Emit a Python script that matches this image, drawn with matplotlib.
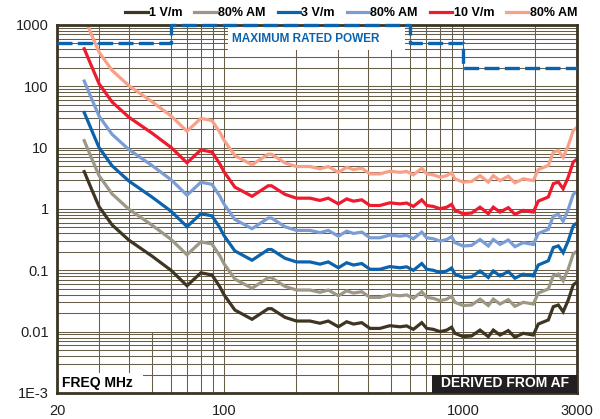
import matplotlib
matplotlib.use('Agg')
import matplotlib.pyplot as plt
from matplotlib.patches import Rectangle
from matplotlib.ticker import FixedLocator, NullFormatter

plt.rcParams['font.family'] = ['Liberation Sans', 'DejaVu Sans']

# frequency points (MHz), shared by all six curves
freq = [26, 28, 30, 34, 40, 50, 60, 70, 80, 89, 96, 100, 111, 131, 153, 158, 180, 201,
        229, 252, 273, 301, 326, 348, 377, 408, 449, 494, 545, 581, 620, 672, 705, 751,
        802, 855, 896, 925, 1002, 1086, 1178, 1276, 1339, 1429, 1547, 1649, 1787, 1969,
        2065, 2275, 2387, 2506, 2625, 2757, 2892, 2960]

# required power (W)
p_1v = [4.06, 2.04, 1.09, 0.55, 0.31, 0.17, 0.10, 0.056, 0.091, 0.084, 0.054, 0.040,
        0.0225, 0.0159, 0.0237, 0.0237, 0.0171, 0.0149, 0.0149, 0.0137, 0.0149, 0.0120,
        0.0145, 0.0133, 0.0140, 0.0113, 0.0113, 0.0125, 0.0120, 0.0124, 0.0109, 0.0140,
        0.0113, 0.0109, 0.0100, 0.0106, 0.0118, 0.0094, 0.0083, 0.0085, 0.0106, 0.0083,
        0.0106, 0.0088, 0.0104, 0.0081, 0.0094, 0.0088, 0.0133, 0.0155, 0.0255, 0.0272,
        0.0211, 0.0328, 0.0577, 0.062]
p_1v_am = [13.0, 6.53, 3.49, 1.76, 0.99, 0.544, 0.32, 0.179, 0.291, 0.269, 0.173, 0.128,
           0.072, 0.0509, 0.0758, 0.0758, 0.0547, 0.0477, 0.0477, 0.0438, 0.0477, 0.0384,
           0.0464, 0.0426, 0.0448, 0.0362, 0.0362, 0.040, 0.0384, 0.0397, 0.0349, 0.0448,
           0.0362, 0.0349, 0.032, 0.0339, 0.0378, 0.0301, 0.0266, 0.0272, 0.0339, 0.0266,
           0.0339, 0.0282, 0.0333, 0.0259, 0.0301, 0.0282, 0.0426, 0.0496, 0.0816, 0.087,
           0.0675, 0.105, 0.185, 0.198]
p_3v = [37.4, 18.8, 10.0, 5.06, 2.85, 1.56, 0.92, 0.515, 0.837, 0.773, 0.497, 0.368,
        0.207, 0.146, 0.218, 0.218, 0.157, 0.137, 0.137, 0.126, 0.137, 0.110, 0.133,
        0.122, 0.129, 0.104, 0.104, 0.115, 0.110, 0.114, 0.100, 0.129, 0.104, 0.100,
        0.092, 0.0975, 0.109, 0.0865, 0.0764, 0.0782, 0.0975, 0.0764, 0.0975, 0.081,
        0.0957, 0.0745, 0.0865, 0.081, 0.122, 0.143, 0.235, 0.250, 0.194, 0.302, 0.531,
        0.570]
p_3v_am = [121.8, 61.2, 32.7, 16.5, 9.3, 5.1, 3.0, 1.68, 2.73, 2.52, 1.62, 1.20, 0.675,
           0.477, 0.711, 0.711, 0.513, 0.447, 0.447, 0.411, 0.447, 0.360, 0.435, 0.399,
           0.420, 0.339, 0.339, 0.375, 0.360, 0.372, 0.327, 0.420, 0.339, 0.327, 0.300,
           0.318, 0.354, 0.282, 0.249, 0.255, 0.318, 0.249, 0.318, 0.264, 0.312, 0.243,
           0.282, 0.264, 0.399, 0.465, 0.765, 0.816, 0.633, 0.984, 1.731, 1.86]
p_10v = [410, 206, 110, 55.6, 31.3, 17.2, 10.1, 5.66, 9.19, 8.48, 5.45, 4.04, 2.27, 1.61,
         2.39, 2.39, 1.73, 1.50, 1.50, 1.38, 1.50, 1.21, 1.46, 1.34, 1.41, 1.14, 1.14,
         1.26, 1.21, 1.25, 1.10, 1.41, 1.14, 1.10, 1.01, 1.07, 1.19, 0.949, 0.838, 0.859,
         1.07, 0.838, 1.07, 0.889, 1.05, 0.818, 0.949, 0.889, 1.34, 1.57, 2.58, 2.75,
         2.13, 3.31, 5.83, 6.26]
p_10v_am = [1340, 673, 360, 182, 102, 56.1, 33.0, 18.5, 30.0, 27.7, 17.8, 13.2, 7.43, 5.25,
            7.82, 7.82, 5.64, 4.92, 4.92, 4.52, 4.92, 3.96, 4.79, 4.39, 4.62, 3.73, 3.73,
            4.13, 3.96, 4.09, 3.60, 4.62, 3.73, 3.60, 3.30, 3.50, 3.89, 3.10, 2.74, 2.81,
            3.50, 2.74, 3.50, 2.90, 3.43, 2.67, 3.10, 2.90, 4.39, 5.12, 8.42, 8.98, 6.96,
            10.8, 19.0, 20.5]

# maximum rated power steps
rated_f = [20, 60, 600, 1000, 3000]
rated_w = [500, 1000, 500, 200, 200]

series = [
    ('1 V/m', p_1v, '#3e3523'),
    ('80% AM', p_1v_am, '#9d9885'),
    ('3 V/m', p_3v, '#0b63ad'),
    ('80% AM', p_3v_am, '#7b9dd5'),
    ('10 V/m', p_10v, '#ee1b2f'),
    ('80% AM', p_10v_am, '#f9a088'),
]

y_ticks = [1e-3, 1e-2, 1e-1, 1, 10, 100, 1000]
y_labels = ['1E-3', '0.01', '0.1', '1', '10', '100', '1000']
x_ticks = [20, 100, 1000, 3000]
x_labels = ['20', '100', '1000', '3000']

grid_col = '#665e49'
text_col = '#231f20'

fig = plt.figure(figsize=(6, 4.19), dpi=100)
ax = fig.add_axes([0.095, 0.0621, 0.8667, 0.8783])
ax.set_xscale('log')
ax.set_yscale('log')
ax.set_xlim(20, 3000)
ax.set_ylim(1e-3, 1e3)

# grid
ax.set_axisbelow(True)
ax.xaxis.set_major_locator(FixedLocator(x_ticks))
ax.xaxis.set_minor_locator(FixedLocator([30, 40, 60, 70, 80, 90, 200, 300, 400, 500, 600,
                                         700, 800, 900, 2000]))
ax.yaxis.set_major_locator(FixedLocator(y_ticks))
minor_y = [m * 10.0 ** e for e in range(-3, 3) for m in range(2, 10)]
ax.yaxis.set_minor_locator(FixedLocator(minor_y))
ax.xaxis.set_minor_formatter(NullFormatter())
ax.yaxis.set_minor_formatter(NullFormatter())
ax.grid(which='both', color=grid_col, lw=0.75)
ax.axvline(50, ymin=0, ymax=1 / 6, color=grid_col, lw=0.75, zorder=0.5)
ax.set_xticklabels(x_labels)
ax.set_yticklabels(y_labels)
ax.tick_params(which='both', length=0)
ax.tick_params(axis='x', pad=8, labelsize=10.5, labelcolor=text_col)
ax.tick_params(axis='y', pad=6, labelsize=10.5, labelcolor=text_col)
for s in ax.spines.values():
    s.set_color('#3b3424')
    s.set_linewidth(2)

for label, vals, col in series:
    ax.plot(freq, vals, color=col, lw=2.3, label=label, solid_joinstyle='miter')

# rated power
ax.step(rated_f, rated_w, where='post', color='#0b63ad', lw=2.4, dashes=(4.5, 1.6),
        clip_on=False, zorder=3)
ax.add_patch(Rectangle((0.329, 0.932), 0.34, 0.065, transform=ax.transAxes,
                       facecolor='white', edgecolor='none', zorder=1))
ax.text(0.479, 0.963, 'MAXIMUM RATED POWER', transform=ax.transAxes, ha='center',
        va='center', color='#0b63ad', fontsize=8.5, fontweight='bold', zorder=4)

# corner labels
ax.add_patch(Rectangle((0, 0), 0.165, 0.055, transform=ax.transAxes,
                       facecolor='white', edgecolor='none', zorder=1))
ax.text(0.01, 0.028, 'FREQ MHz', transform=ax.transAxes, ha='left', va='center',
        color='black', fontsize=10, fontweight='bold', zorder=4)
ax.add_patch(Rectangle((0.721, 0), 0.279, 0.05, transform=ax.transAxes,
                       facecolor='#231f20', edgecolor='none', zorder=4))
ax.text(0.862, 0.026, 'DERIVED FROM AF', transform=ax.transAxes, ha='center', va='center',
        color='white', fontsize=10, fontweight='bold', zorder=5)

fig.legend(loc='center right', bbox_to_anchor=(0.962, 0.969), ncol=6, frameon=False,
           prop={'weight': 'bold', 'size': 9}, handlelength=1.8, handletextpad=0.1,
           columnspacing=0.95, borderpad=0, borderaxespad=0)

fig.savefig('out.png', dpi=100, facecolor='white')
